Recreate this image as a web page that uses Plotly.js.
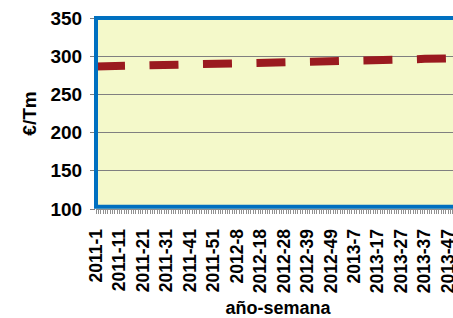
<!DOCTYPE html>
<html><head><meta charset="utf-8">
<script src="https://cdn.plot.ly/plotly-3.0.1.min.js"></script>
<style>html,body{margin:0;padding:0;overflow:hidden;background:#fff}#chart{width:470px;height:318px}</style>
</head><body><div id="chart"></div>
<script>
// week numbers present in the data, per year
const weeks2011 = [1,2,3,4,5,6,7,8,9,10,11,12,13,14,15,16,17,18,19,20,21,22,23,24,25,26,27,28,29,30,31,32,33,34,35,36,37,38,39,40,41,42,43,44,45,46,47,48,49,50,51,52,53];
const weeks2012 = [1,2,3,4,5,6,7,8,9,10,11,12,13,14,15,16,17,18,19,20,21,22,23,24,25,26,27,28,29,30,31,32,34,35,36,37,38,39,40,41,42,43,44,45,46,47,48,49,50,51,52];
const weeks2013 = [1,2,3,4,5,6,7,8,9,10,11,12,13,14,15,16,17,18,19,20,21,22,23,24,25,26,27,28,29,30,31,32,33,34,35,36,37,38,39,40,41,42,43,44,45,46,47,48,49,50,51,52];
const categories = [].concat(
  weeks2011.map(w => '2011-' + w),
  weeks2012.map(w => '2012-' + w),
  weeks2013.map(w => '2013-' + w)
);
// series (€/Tm)
const seriesWeeks = ['2011-1','2011-11','2011-21','2011-31','2011-41','2011-51','2012-8','2012-18','2012-28','2012-39','2012-49','2013-7','2013-17','2013-27','2013-37','2013-47','2013-52'];
const seriesValues = [286.5,287,287.5,288,289,290,290.5,291.5,292.5,293,293.5,294.5,295,295.5,296.5,297.3,297.5];
const yTicks = [100,150,200,250,300,350];
const tickLabels = categories.map((c, i) => (i % 10 === 0 ? c : ''));

const FONT = '"Liberation Sans", Arial, sans-serif';
Plotly.newPlot('chart', [{
  type: 'scatter', mode: 'lines',
  x: seriesWeeks, y: seriesValues,
  line: {color: '#9A1A1F', width: 8, dash: '29px,24.5px'},
  hoverinfo: 'skip', showlegend: false
}], {
  width: 470, height: 318,
  margin: {l: 96, r: 10, t: 18, b: 109},
  paper_bgcolor: '#ffffff', plot_bgcolor: '#F4F9CA',
  font: {family: FONT, color: '#000'},
  xaxis: {
    type: 'category', categoryorder: 'array', categoryarray: categories,
    range: [0, categories.length - 1],
    tickmode: 'array', tickvals: categories, ticktext: tickLabels,
    tickangle: -90, tickfont: {family: FONT, size: 17.5, weight: 'bold', color: '#000'},
    ticks: 'outside', ticklen: 4, tickwidth: 1, tickcolor: '#909090',
    ticklabelstandoff: 8,
    showgrid: false, zeroline: false, showline: true, linecolor: '#909090', linewidth: 1,
    title: {text: 'año-semana', standoff: 12, font: {family: FONT, size: 18, weight: 'bold', color: '#000'}},
    fixedrange: true
  },
  yaxis: {
    range: [100, 350], tickmode: 'array', tickvals: yTicks,
    tickfont: {family: FONT, size: 19, weight: 'bold', color: '#000'},
    ticks: 'outside', ticklen: 5, tickwidth: 1, tickcolor: '#808080',
    ticklabelstandoff: 4,
    showgrid: true, gridcolor: '#808080', gridwidth: 1,
    zeroline: false, showline: false,
    title: {text: '€/Tm', standoff: 8, font: {family: FONT, size: 19, weight: 'bold', color: '#000'}},
    fixedrange: true
  },
  shapes: [{
    type: 'rect', xref: 'paper', yref: 'paper', x0: 0, x1: 1.05, y0: 0.012, y1: 1,
    line: {color: '#0070C0', width: 4}, layer: 'above'
  }]
}, {displayModeBar: false, staticPlot: true});
</script>
</body></html>
